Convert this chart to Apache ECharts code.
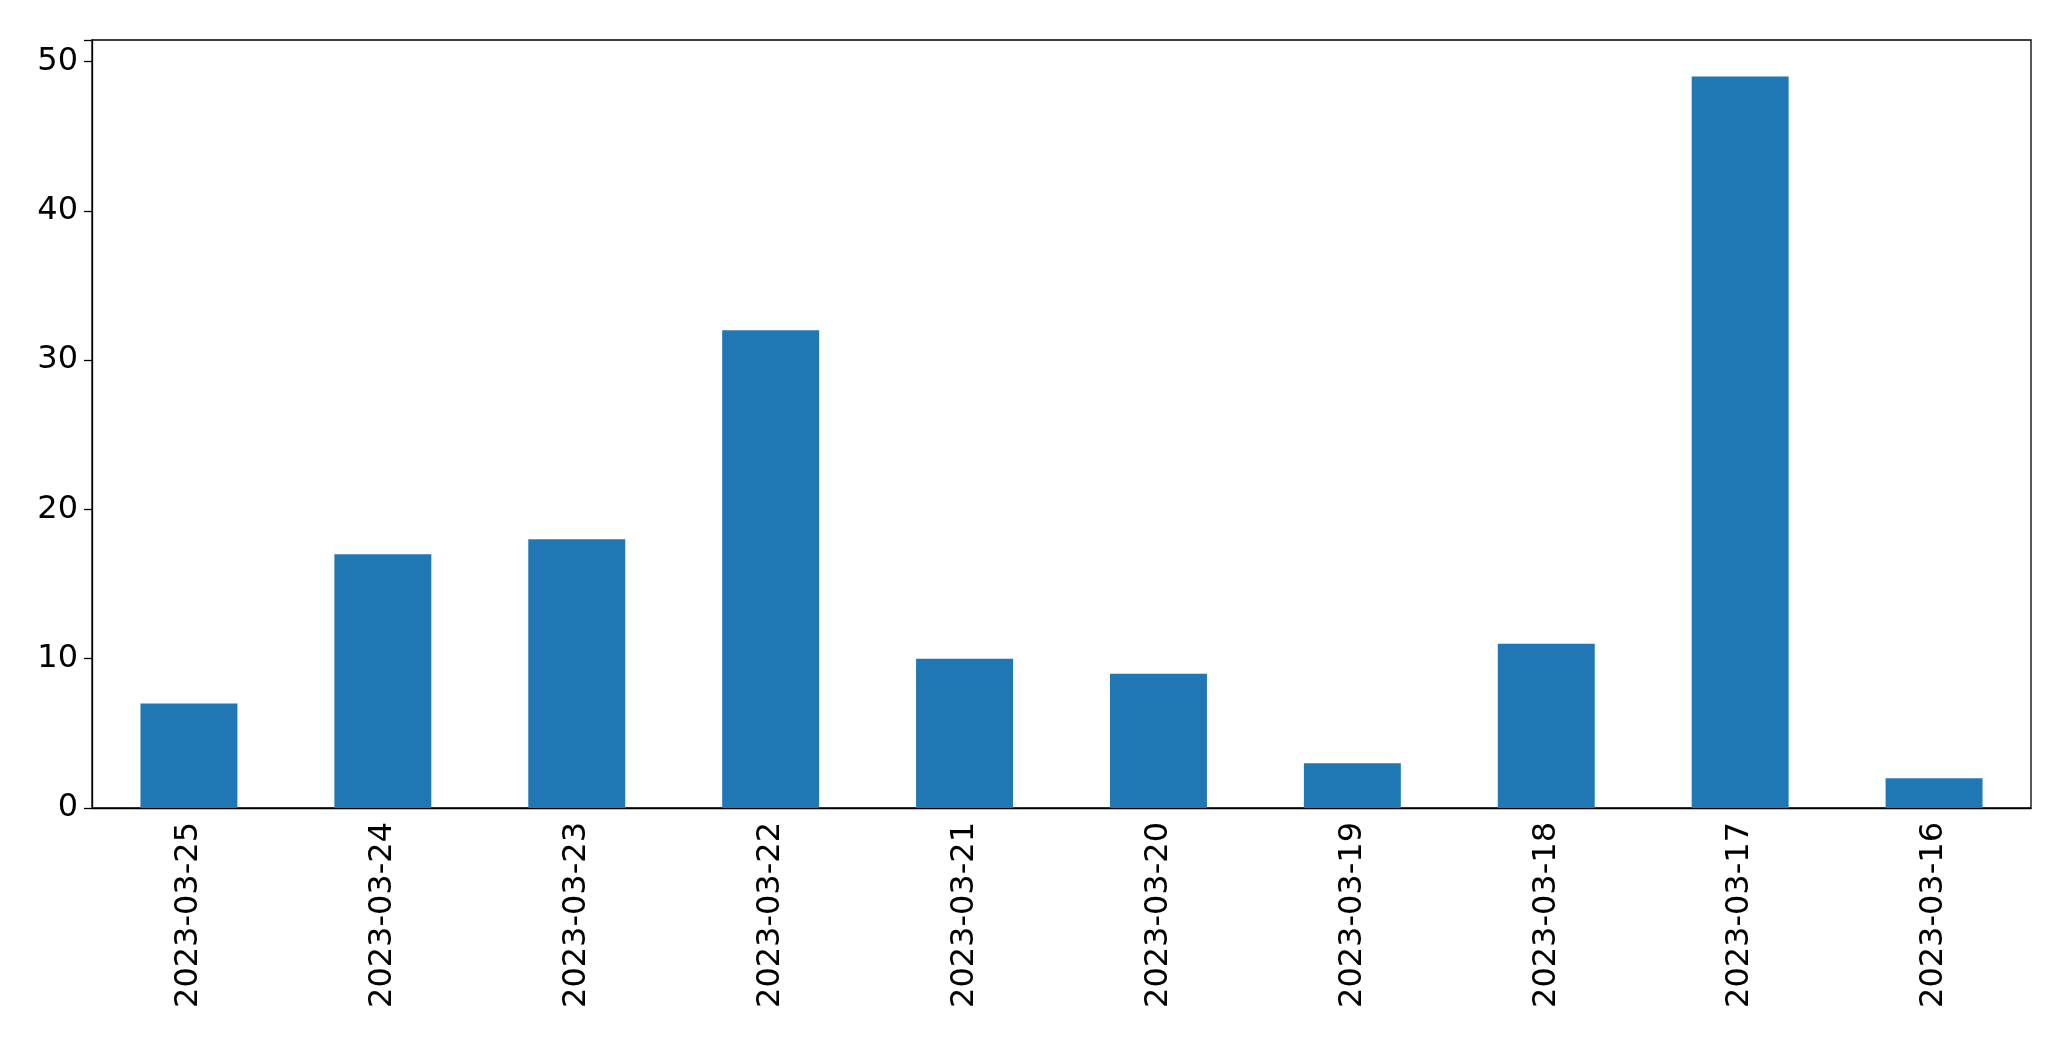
<!DOCTYPE html>
<html>
<head>
<meta charset="utf-8">
<script src="https://cdn.jsdelivr.net/npm/echarts@6/dist/echarts.min.js"></script>
<style>html,body{margin:0;padding:0;background:#fff}#chart{width:2071px;height:1061px}</style>
</head>
<body>
<div id="chart"></div>
<script>
const dates = ['2023-03-25','2023-03-24','2023-03-23','2023-03-22','2023-03-21','2023-03-20','2023-03-19','2023-03-18','2023-03-17','2023-03-16'];
const counts = [7, 17, 18, 32, 10, 9, 3, 11, 49, 2];

const chart = echarts.init(document.getElementById('chart'));
chart.setOption({
  animation: false,
  grid: {
    left: 92, right: 40, top: 40, bottom: 253,
    show: true, borderColor: '#000', borderWidth: 1.3
  },
  xAxis: {
    type: 'category',
    data: dates,
    axisLine: { lineStyle: { color: '#000', width: 1.3 } },
    axisTick: { alignWithLabel: true, length: 8, lineStyle: { color: '#000', width: 1.3 } },
    axisLabel: {
      rotate: 90, color: '#000', fontSize: 32, margin: 14,
      fontFamily: 'DejaVu Sans'
    }
  },
  yAxis: {
    type: 'value',
    min: 0, max: 51.45, interval: 10,
    showMaxLabel: false,
    splitLine: { show: false },
    axisLine: { show: true, lineStyle: { color: '#000', width: 1.3 } },
    axisTick: { show: true, length: 8, lineStyle: { color: '#000', width: 1.3 } },
    axisLabel: {
      color: '#000', fontSize: 32, margin: 14, fontFamily: 'DejaVu Sans',
      formatter: v => (v % 10 === 0 ? String(v) : '')
    }
  },
  series: [{
    type: 'bar',
    data: counts,
    barWidth: '50%',
    itemStyle: { color: '#1f77b4' }
  }]
});
</script>
</body>
</html>
